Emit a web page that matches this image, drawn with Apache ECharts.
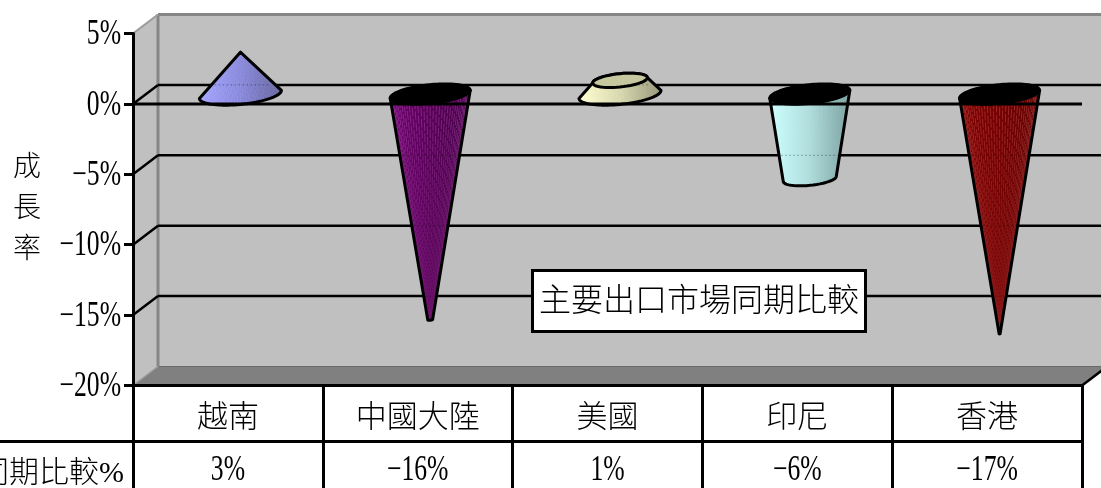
<!DOCTYPE html>
<html><head><meta charset="utf-8">
<style>html,body{margin:0;padding:0;background:#fff}#c{width:1101px;height:488px}</style>
<script src="https://cdn.jsdelivr.net/npm/echarts@6/dist/echarts.min.js"></script>
</head><body><div id="c"></div>
<script>
const categories = ['越南','中國大陸','美國','印尼','香港'];
const values = [3,-16,1,-6,-17];
const valueLabels = ['3%','−16%','1%','−6%','−17%'];
const yTicks = [-15,-10,-5,0];
const tickValues = [5,0,-5,-10,-15,-20];
const tickLabels = ['5%','0%','−5%','−10%','−15%','−20%'];
const rowHeader = '同期比較%';
const boxTitle = '主要出口市場同期比較';
const yName = '成\n長\n率';
const palette = [
  {l:'#a2a2ff',m:'#8888dc',r:'#64649e',top:'#000',stripe:[255,255,255,.10],n:40},
  {l:'#6e006e',m:'#5a005a',r:'#4a004a',top:'#000',stripe:[215,140,215,.32],n:40},
  {l:'#ffffcf',m:'#d8d8b0',r:'#97977a',top:'#c8c8a0',stripe:[255,255,255,.08],n:30},
  {l:'#ccffff',m:'#b0dcdc',r:'#7aa0a0',top:'#000',stripe:[255,255,255,.08],n:30},
  {l:'#800000',m:'#760000',r:'#640000',top:'#000',stripe:[235,150,150,.32],n:40}
];
const DX=25, DY=19, R=41, MINOR=10, TILT=-4/41;
const FONT='"Liberation Serif","Noto Sans CJK TC",serif';
const maxPos=Math.max(...values), maxNeg=Math.min(...values);

function bodyFill(p){
  return {type:'linear',x:0,y:0,x2:1,y2:0,colorStops:[{offset:0,color:p.l},{offset:.5,color:p.m},{offset:1,color:p.r}]};
}
function ep(cx,cy,r,t){
  const a=r*Math.cos(t), b=r/R*MINOR*Math.sin(t);
  return [cx+a, cy+b+a*TILT];
}
function arc(cx,cy,r,t0,t1,n){
  const pts=[];
  for(let i=0;i<=n;i++){pts.push(ep(cx,cy,r,t0+(t1-t0)*i/n));}
  return pts;
}
function renderCone(params,api){
  const i=api.value(0), v=api.value(1), p=palette[i];
  const b=api.coord([i,0]), e=api.coord([i,v]);
  const cx=b[0]+DX/2, by=b[1]-DY/2, ey=e[1]-DY/2;
  const max=v>0?maxPos:-maxNeg;
  const re=R*(1-Math.abs(v)/max);
  const lw=3, children=[];
  const rb=v>0?R:R-1, rt=v>0?re:Math.max(re,.5);
  let outline;
  if(v>0){
    const upper=re>0?arc(cx,ey,re,0,-Math.PI,24):[[cx,ey]];
    outline=arc(cx,by,R,Math.PI,0,40).concat(upper);
  } else {
    outline=arc(cx,by,rb,Math.PI,Math.PI*2,40).concat(arc(cx,ey,rt,0,Math.PI,24));
  }
  children.push({type:'polygon',shape:{points:outline},style:{fill:bodyFill(p)}});
  // facets of the shaded surface, fading as they converge towards the tip
  const s=p.stripe;
  const fade={type:'linear',global:true,x:0,y:by,x2:0,y2:ey,colorStops:[
    {offset:0,color:`rgba(${s[0]},${s[1]},${s[2]},${s[3]})`},
    {offset:1,color:`rgba(${s[0]},${s[1]},${s[2]},${s[3]*.15})`}]};
  for(let k=1;k<p.n;k++){
    const t=Math.PI*k/p.n;
    const a=ep(cx,by,rb,t), c=re>0||v<0?ep(cx,ey,rt,t):[cx,ey];
    children.push({type:'line',shape:{x1:a[0],y1:a[1],x2:c[0],y2:c[1]},style:{stroke:fade,lineWidth:.9,lineDash:[9,2],lineDashOffset:k*3.7}});
  }
  // back gridlines showing faintly through the body
  yTicks.forEach(tk=>{
    const y=api.coord([i,tk])[1]-DY;
    const f=(y-by)/(ey-by);
    if(f>0.02&&f<0.98){
      const r=R+(re-R)*f-2;
      children.push({type:'line',shape:{x1:cx-r,y1:y,x2:cx+r,y2:y},style:{stroke:'rgba(0,0,0,.38)',lineWidth:1,lineDash:[1.5,2.5]}});
    }
  });
  children.push({type:'polygon',shape:{points:outline},style:{fill:'none',stroke:'#000',lineWidth:lw,lineJoin:'round'}});
  if(v>0){
    if(re>0) children.push({type:'polygon',shape:{points:arc(cx,ey,re,0,Math.PI*2,48)},style:{fill:p.top,stroke:'#000',lineWidth:lw}});
  } else {
    children.push({type:'polygon',shape:{points:arc(cx,by,R,0,Math.PI*2,60)},style:{fill:'#000',stroke:'#000',lineWidth:1}});
  }
  return {type:'group',children};
}
function renderWalls(params,api){
  const g=params.coordSys, L=g.x, T=g.y, B=g.y+g.height, Rt=g.x+g.width;
  const wall='#c0c0c0', edge='#868686';
  return {type:'group',children:[
    {type:'rect',shape:{x:L+DX,y:T-DY,width:Rt-L,height:g.height},style:{fill:wall}},
    {type:'polygon',shape:{points:[[L,T],[L+DX,T-DY],[L+DX,B-DY],[L,B]]},style:{fill:wall}},
    {type:'polygon',shape:{points:[[L,B],[L+DX,B-DY],[Rt+DX,B-DY],[Rt,B]]},style:{fill:'#808080'}},
    {type:'line',shape:{x1:L+DX,y1:B-DY,x2:Rt+DX,y2:B-DY},style:{stroke:'#6a6a6a',lineWidth:1}},
    {type:'line',shape:{x1:L+DX,y1:T-DY,x2:L+DX,y2:B-DY},style:{stroke:edge,lineWidth:3}},
    {type:'line',shape:{x1:L+DX,y1:T-DY,x2:Rt+DX,y2:T-DY},style:{stroke:edge,lineWidth:3}},
    {type:'line',shape:{x1:L,y1:T,x2:L+DX,y2:T-DY},style:{stroke:'#9a9a9a',lineWidth:2}},
    {type:'line',shape:{x1:L,y1:B,x2:L+DX,y2:B-DY},style:{stroke:'#9a9a9a',lineWidth:1.5}},
    {type:'line',shape:{x1:Rt,y1:B,x2:Rt+DX,y2:B-DY},style:{stroke:'#000',lineWidth:2.5}},
    {type:'line',shape:{x1:0,y1:B+56,x2:L,y2:B+56},style:{stroke:'#000',lineWidth:3}},
    {type:'text',style:{text:rowHeader,x:L-9,y:B+89,align:'right',verticalAlign:'middle',font:'300 30px '+FONT,fill:'#000'}}
  ]};
}
function renderGrid(params,api){
  const g=params.coordSys, p=api.coord([0,api.value(1)]), L=g.x, y=p[1], Rt=g.x+g.width;
  return {type:'group',children:[
    {type:'line',shape:{x1:L,y1:y,x2:L+DX,y2:y-DY},style:{stroke:'#000',lineWidth:2.5}},
    {type:'line',shape:{x1:L+DX,y1:y-DY,x2:Rt+DX,y2:y-DY},style:{stroke:'#000',lineWidth:2.5}}
  ]};
}
function renderFrontZero(params,api){
  const g=params.coordSys, y=api.coord([0,0])[1];
  return {type:'line',shape:{x1:g.x,y1:y,x2:g.x+g.width,y2:y},style:{stroke:'#000',lineWidth:3}};
}
// the reference numerals are tall and narrow, so they are stretched real text
const numText=(text,x,y,align)=>({type:'text',x,y,scaleX:.95,scaleY:1.3,
  style:{text,x:0,y:0,align,verticalAlign:'middle',font:'27px '+FONT,fill:'#000'}});
function renderTickLabel(params,api){
  const idx=params.dataIndex, g=params.coordSys, y=api.coord([0,tickValues[idx]])[1];
  return numText(tickLabels[idx],g.x-12,y+1.5,'right');
}
function renderValueLabel(params,api){
  const idx=params.dataIndex, g=params.coordSys, x=api.coord([idx,0])[0];
  return numText(valueLabels[idx],x,g.y+g.height+85,'center');
}
const chart=echarts.init(document.getElementById('c'),null,{renderer:'canvas'});
chart.setOption({
  animation:false,
  textStyle:{fontFamily:FONT},
  title:{text:boxTitle,left:532,top:270,padding:[17,7,13,7],backgroundColor:'#fff',borderColor:'#000',borderWidth:3,
    textStyle:{fontFamily:FONT,fontWeight:300,fontSize:32,color:'#000',height:32,lineHeight:32},z:10},
  grid:{left:133,top:33.5,width:949,height:352},
  xAxis:[
    {type:'category',data:categories,position:'bottom',
     axisLine:{show:true,onZero:false,lineStyle:{color:'#000',width:3}},
     axisTick:{show:true,length:103,lineStyle:{color:'#000',width:3}},
     axisLabel:{fontSize:31,fontWeight:300,color:'#000',margin:18,fontFamily:FONT},z:6},
    {type:'category',data:valueLabels,position:'bottom',offset:56,
     axisLine:{show:true,onZero:false,lineStyle:{color:'#000',width:3}},
     axisTick:{show:false},axisLabel:{show:false},z:6}
  ],
  yAxis:{type:'value',min:-20,max:5,interval:5,
    name:yName,nameLocation:'middle',nameRotate:0,nameGap:92,
    nameTextStyle:{fontSize:28,fontWeight:300,lineHeight:41,color:'#000',fontFamily:FONT,padding:[14,0,0,0]},
    axisLine:{show:true,lineStyle:{color:'#000',width:3}},
    axisTick:{show:true,length:9,lineStyle:{color:'#000',width:3}},
    splitLine:{show:false},
    axisLabel:{show:false}},
  series:[
    {type:'custom',name:'walls',coordinateSystem:'cartesian2d',clip:false,silent:true,z:-3,data:[[0,0]],encode:{x:0,y:1},renderItem:renderWalls},
    {type:'custom',name:'grid',coordinateSystem:'cartesian2d',clip:false,silent:true,z:-2,data:yTicks.map(v=>[0,v]),encode:{x:0,y:1},renderItem:renderGrid},
    {type:'custom',name:'成長率',coordinateSystem:'cartesian2d',clip:false,z:3,data:values.map((v,i)=>[i,v]),encode:{x:0,y:1},renderItem:renderCone},
    {type:'custom',name:'zero',coordinateSystem:'cartesian2d',clip:false,silent:true,z:5,data:[[0,0]],encode:{x:0,y:1},renderItem:renderFrontZero},
    {type:'custom',name:'tick labels',coordinateSystem:'cartesian2d',clip:false,silent:true,z:6,data:tickValues.map(v=>[0,v]),encode:{x:0,y:1},renderItem:renderTickLabel},
    {type:'custom',name:'value labels',coordinateSystem:'cartesian2d',clip:false,silent:true,z:6,data:values.map((v,i)=>[i,v]),encode:{x:0,y:1},renderItem:renderValueLabel}
  ]
});
</script></body></html>
